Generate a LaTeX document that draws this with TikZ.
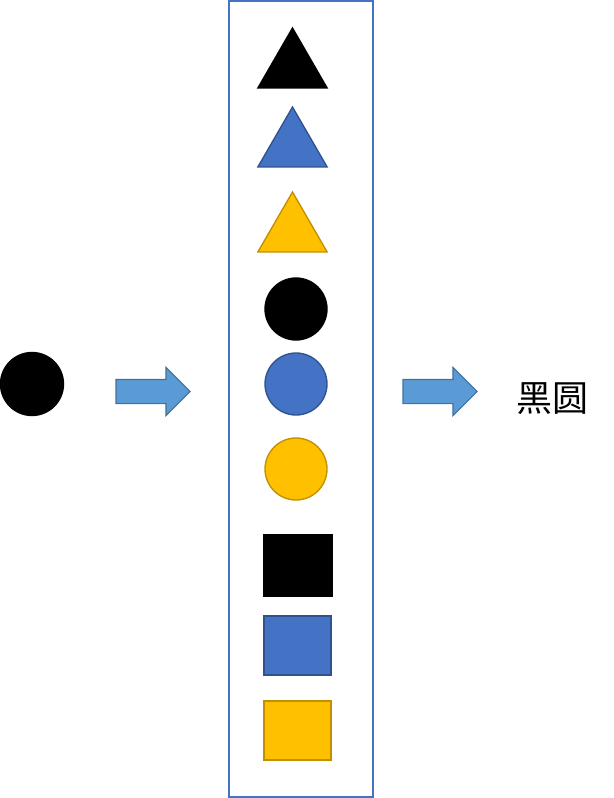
\documentclass[tikz,border=0pt]{standalone}
\usepackage{fontspec}
\newfontfamily\cjk{Noto Sans CJK SC}
\usetikzlibrary{positioning}
\usetikzlibrary{shapes.geometric,shapes.arrows}
\definecolor{shapeblue}{HTML}{4472C4}
\definecolor{lineblue}{HTML}{2F528F}
\definecolor{shapegold}{HTML}{FFC000}
\definecolor{linegold}{HTML}{BF9000}
\definecolor{arrowblue}{HTML}{5B9BD5}
\definecolor{arrowline}{HTML}{41719C}
\tikzset{
  tri/.style={regular polygon,regular polygon sides=3,minimum size=60pt,inner sep=0pt,line width=1pt},
  dot/.style={circle,minimum size=46.5pt,inner sep=0pt,line width=1pt},
  sq/.style={rectangle,minimum width=50.25pt,minimum height=44.25pt,inner sep=0pt,line width=1pt},
  black shape/.style={fill=black,draw=black},
  blue shape/.style={fill=shapeblue,draw=lineblue},
  gold shape/.style={fill=shapegold,draw=linegold},
  blockarrow/.style={single arrow,single arrow head extend=9pt,inner xsep=0pt,inner ysep=8.625pt,minimum height=55.5pt,fill=arrowblue,draw=arrowline,line width=0.8pt}
}

\begin{document}
\begin{tikzpicture}[x=0.75pt,y=-0.75pt]
\useasboundingbox (0,0) rectangle (613,798);
\node[draw=shapeblue,line width=1.1pt,minimum width=108pt,minimum height=597pt,inner sep=0pt] (box) at (301,399) {};
% triangles
\node[tri,black shape] (t1) at (292.5,68) {};
\node[tri,blue shape] (t2) at (292.5,147) {};
\node[tri,gold shape] (t3) at (292.5,232) {};
% circles
\node[dot,black shape] (c1) at (296,309) {};
\node[dot,blue shape] (c2) at (296,384) {};
\node[dot,gold shape] (c3) at (296,469) {};
% squares
\node[sq,black shape,minimum width=51pt,minimum height=45.75pt] (s1) at (298,565.5) {};
\node[sq,blue shape] (s2) at (297.5,645.5) {};
\node[sq,gold shape] (s3) at (297.5,730.5) {};
% input and output
\node[dot,black shape,minimum size=47.25pt] (in) at (32,384) {};
\node[blockarrow] (a1) at (147,391.5) {};
\node[blockarrow] (a2) at (434,391.5) {};
\node[font=\cjk\fontsize{27pt}{30pt}\selectfont,inner sep=0pt] (out) at (552,399) {黑圆};
\end{tikzpicture}
\end{document}
